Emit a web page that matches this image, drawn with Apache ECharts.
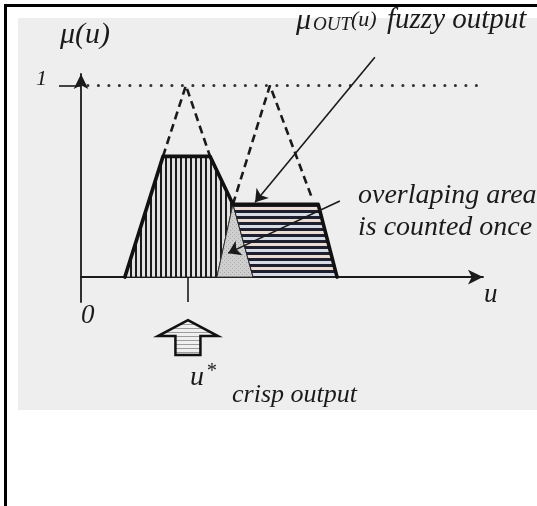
<!DOCTYPE html>
<html>
<head>
<meta charset="utf-8">
<script src="https://cdn.jsdelivr.net/npm/echarts@6/dist/echarts.min.js"></script>
<style>
  html, body { margin: 0; padding: 0; background: #ffffff; }
  #chart { width: 537px; height: 506px; }
</style>
</head>
<body>
<div id="chart"></div>
<script>
// Membership degrees mu(u) over the output universe u (0..100).
// Clipped output set of rule 1 (vertically hatched), without the shared part
const setOneHatch = [[10.9, 0], [20.4, 0.63], [32.1, 0.63], [37.8, 0.38], [33.8, 0]];
// Part shared by both clipped sets (counted once)
const overlapArea = [[33.8, 0], [37.8, 0.38], [42.8, 0]];
// Clipped output set of rule 2 (horizontally hatched), without the shared part
const setTwoHatch = [[37.8, 0.38], [59.0, 0.38], [63.7, 0], [42.8, 0]];
// Outlines of the two clipped sets
const setOneEdge = [[10.9, 0], [20.4, 0.63], [32.1, 0.63], [37.8, 0.38]];
const setTwoEdge = [[37.8, 0.38], [59.0, 0.38], [63.7, 0]];
// Unclipped triangular membership functions (dashed, above the clip levels)
const ruleOneTriangle = [[20.4, 0.63], [26.1, 1], [32.1, 0.63]];
const ruleTwoTriangle = [[37.8, 0.38], [47.0, 1], [57.5, 0.41]];
// Full membership reference level
const unityLevel = [[1.7, 1], [98.5, 1]];
// Defuzzified (crisp) output
const crispOutput = 26.6;
// Annotation pointers: [from, to]
const fuzzyPointer = [[73.1, 1.148], [43.3, 0.391]];
const overlapPointer = [[64.4, 0.397], [36.6, 0.125]];
// Axis tick labels
const yTickValues = [1];
const xTickValues = [0];

const SERIF = "'Liberation Serif', 'Times New Roman', serif";
const INK = '#1a1a1a';

function makePattern(w, h, paint) {
  const c = document.createElement('canvas');
  c.width = w; c.height = h;
  paint(c.getContext('2d'));
  return { image: c, repeat: 'repeat' };
}
const verticalHatch = makePattern(5, 4, g => {
  g.fillStyle = '#e2e2e2'; g.fillRect(0, 0, 5, 4);
  g.fillStyle = '#1b1b1b'; g.fillRect(0, 0, 2, 4);
});
const horizontalHatch = makePattern(4, 12, g => {
  g.fillStyle = '#1e2030'; g.fillRect(0, 0, 4, 12);
  g.fillStyle = '#eadcd4'; g.fillRect(0, 3, 4, 3);
  g.fillStyle = '#d6dbe6'; g.fillRect(0, 9, 4, 3);
});
const stipple = makePattern(4, 4, g => {
  g.fillStyle = '#cfcfcf'; g.fillRect(0, 0, 4, 4);
  g.fillStyle = '#a9a9a9'; g.fillRect(0, 0, 1, 1); g.fillRect(2, 2, 1, 1);
});
const arrowFill = makePattern(2, 4, g => {
  g.fillStyle = '#f0f0f0'; g.fillRect(0, 0, 2, 4);
  g.fillStyle = '#9c9c9c'; g.fillRect(0, 0, 2, 1);
});

const regions = [
  { points: setOneHatch, fill: verticalHatch, stroke: '#222', width: 1 },
  { points: overlapArea, fill: stipple, stroke: '#333', width: 1 },
  { points: setTwoHatch, fill: horizontalHatch, stroke: '#222', width: 1 }
];

function text(str, x, y, size) {
  return {
    type: 'text', x: x, y: y, z: 50,
    style: {
      text: str, fill: INK, font: 'italic ' + size + 'px ' + SERIF,
      textAlign: 'left', textVerticalAlign: 'top'
    }
  };
}

const chart = echarts.init(document.getElementById('chart'), null, { renderer: 'canvas' });

chart.setOption({
  animation: false,
  backgroundColor: '#ffffff',
  grid: { left: 81, right: 54, top: 74, bottom: 204, containLabel: false, outerBoundsMode: 'none' },
  xAxis: {
    type: 'value', min: 0, max: 100,
    splitLine: { show: false },
    axisLine: { onZero: true, symbol: ['none', 'arrow'], symbolSize: [11, 15], lineStyle: { color: INK, width: 1.8 } },
    axisTick: { show: true, customValues: [crispOutput], length: 25, lineStyle: { color: INK, width: 1.6 } },
    axisLabel: {
      customValues: xTickValues, formatter: v => String(v), margin: 0, align: 'left',
      fontFamily: SERIF, fontStyle: 'italic', fontSize: 27, color: INK
    }
  },
  yAxis: {
    type: 'value', min: -0.13, max: 1.06,
    splitLine: { show: false },
    axisLine: { onZero: true, symbol: ['none', 'arrow'], symbolSize: [11, 15], lineStyle: { color: INK, width: 1.8 } },
    axisTick: { show: true, customValues: yTickValues, length: 22, lineStyle: { color: INK, width: 1.6 } },
    axisLabel: {
      customValues: yTickValues, formatter: v => String(v), margin: 34,
      verticalAlign: 'bottom', lineHeight: 12,
      fontFamily: SERIF, fontStyle: 'italic', fontSize: 22, color: INK
    }
  },
  graphic: {
    elements: [
      { type: 'rect', z: -100, shape: { x: 18, y: 18, width: 519, height: 392 }, style: { fill: '#eeeeee' } },
      { type: 'rect', z: 60, shape: { x: 4, y: 4, width: 533, height: 3 }, style: { fill: '#000' } },
      { type: 'rect', z: 60, shape: { x: 4, y: 4, width: 3, height: 502 }, style: { fill: '#000' } },
      text('μ(u)', 60, 20, 30),
      text('μ', 296, 6, 30),
      text('OUT', 313, 15, 19),
      text('(u)', 351, 9, 22),
      text('fuzzy output', 387, 6, 29),
      text('overlaping area', 358, 182, 28),
      text('is counted once', 358, 214, 28),
      text('u', 484, 281, 27),
      text('u', 190, 364, 28),
      text('*', 206, 362, 20),
      text('crisp output', 232, 382, 26)
    ]
  },
  series: [
    {
      type: 'custom', name: 'regions', clip: false, z: 3,
      data: regions.map(r => r.points[0]),
      renderItem: (params, api) => {
        const r = regions[params.dataIndex];
        return {
          type: 'polygon',
          shape: { points: r.points.map(p => api.coord(p)) },
          style: { fill: r.fill, stroke: r.stroke, lineWidth: r.width }
        };
      }
    },
    {
      type: 'line', name: 'rule 1', data: ruleOneTriangle, symbol: 'none', z: 4, clip: false,
      lineStyle: { color: INK, width: 2.6, type: [8, 5] }
    },
    {
      type: 'line', name: 'rule 2', data: ruleTwoTriangle, symbol: 'none', z: 4, clip: false,
      lineStyle: { color: INK, width: 2.6, type: [8, 5] }
    },
    {
      type: 'line', name: 'set 1 edge', data: setOneEdge, symbol: 'none', z: 5, clip: false,
      lineStyle: { color: '#111', width: 3.6, cap: 'round', join: 'round' }
    },
    {
      type: 'line', name: 'set 2 edge', data: setTwoEdge, symbol: 'none', z: 5, clip: false,
      lineStyle: { color: '#111', width: 3.6, cap: 'round', join: 'round' }
    },
    {
      type: 'line', name: 'unity', data: unityLevel, symbol: 'none', z: 4, clip: false,
      lineStyle: { color: '#333', width: 3, type: [0.1, 10.4], cap: 'round' }
    },
    {
      type: 'lines', coordinateSystem: 'cartesian2d', clip: false, z: 6,
      symbol: ['none', 'arrow'], symbolSize: 12,
      lineStyle: { color: INK, width: 1.6, opacity: 1, curveness: 0 },
      data: [{ coords: fuzzyPointer }, { coords: overlapPointer }]
    },
    {
      type: 'custom', name: 'crisp output', clip: false, z: 6,
      data: [[crispOutput, 0]],
      renderItem: (params, api) => {
        const p = api.coord([api.value(0), api.value(1)]);
        const outline = [[0, 43], [30, 59], [12.5, 59], [12.5, 78], [-12.5, 78], [-12.5, 59], [-30, 59]];
        return {
          type: 'polygon',
          shape: { points: outline.map(o => [p[0] + o[0], p[1] + o[1]]) },
          style: { fill: arrowFill, stroke: '#111', lineWidth: 2.5, lineJoin: 'miter' }
        };
      }
    }
  ]
});
</script>
</body>
</html>
